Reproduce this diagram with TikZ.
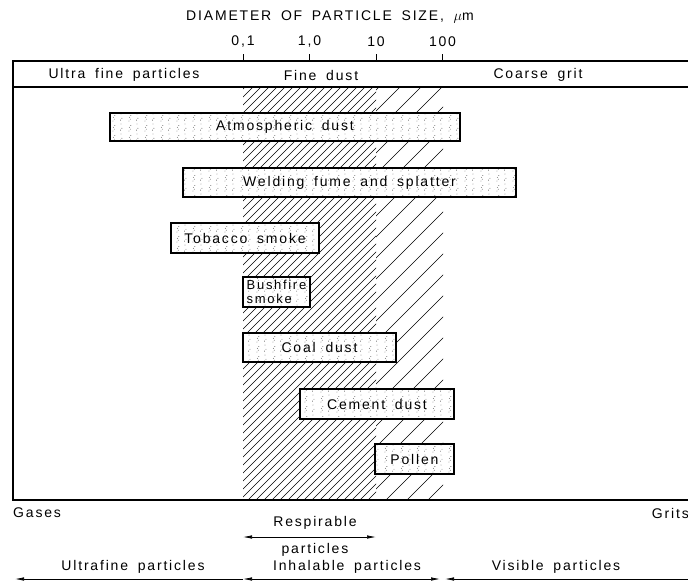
\documentclass[tikz,border=0pt]{standalone}
\usepackage{fontspec}
\setmainfont{Liberation Sans}[LetterSpace=13, WordSpace=1.7]
\usetikzlibrary{arrows.meta,patterns.meta}
\pgfdeclarepattern{name=stipple, type=uncolored,
  bottom left={\pgfpoint{0pt}{0pt}}, top right={\pgfpoint{16pt}{10pt}},
  tile size={\pgfpoint{16pt}{10pt}},
  code={\pgfpathcircle{\pgfpoint{1pt}{1pt}}{0.45pt}
        \pgfpathcircle{\pgfpoint{2.5pt}{3pt}}{0.45pt}
        \pgfpathcircle{\pgfpoint{1.5pt}{5pt}}{0.45pt}
        \pgfpathcircle{\pgfpoint{3pt}{7pt}}{0.45pt}
        \pgfpathcircle{\pgfpoint{9pt}{2pt}}{0.45pt}
        \pgfpathcircle{\pgfpoint{10.5pt}{4pt}}{0.45pt}
        \pgfpathcircle{\pgfpoint{9.5pt}{8.5pt}}{0.45pt}
        \pgfusepath{fill}}}
\newcommand{\hatchTop}{87}
\newcommand{\hatchBot}{500}

\begin{document}
\begin{tikzpicture}[x=1pt, y=-1pt, font=\fontsize{14}{16}\selectfont]
  \tikzset{frame/.style={line width=1.8pt},
    hatch/.style={line width=0.45pt},
    bar/.style={draw, line width=1.6pt, preaction={fill=white},
      pattern={stipple}, pattern color=black!70, inner sep=1pt},
    lbl/.style={inner sep=1pt},
    span/.style={line width=0.7pt, {Latex[length=9pt,width=3.5pt]}-},
    span both/.style={line width=0.7pt, {Latex[length=9pt,width=3.5pt]}-{Latex[length=9pt,width=3.5pt]}}}
  \useasboundingbox (0,0) rectangle (688,582);
  \node[lbl] (title) at (330,17) {DIAMETER OF PARTICLE SIZE, $\mu$m};
  \foreach \x/\v in {243/{0,1}, 309.5/{1,0}, 376/10, 442.5/100} {
    \node[lbl] at (\x,42) {\v};
    \draw[line width=0.8pt] (\x,54) -- (\x,61);
  }
  \begin{scope}
    \clip (243,\hatchTop) rectangle (376,\hatchBot);
    \foreach \k in {-176,-168,...,380} \draw[hatch] (\k,\hatchBot) -- ++(413,-413);
  \end{scope}
  \begin{scope}
    \clip (376,\hatchTop) rectangle (443,\hatchBot);
    \foreach \k in {-34,-13,...,450} \draw[hatch] (\k,\hatchBot) -- ++(413,-413);
  \end{scope}
  \draw[frame] (688,61) -- (13,61) -- (13,500) -- (688,500);
  \draw[frame] (13,87) -- (688,87);
  \node[lbl] (ultra) at (124,75) {Ultra fine particles};
  \node[lbl] (fine) at (321,75) {Fine dust};
  \node[lbl] (coarse) at (538,75) {Coarse grit};
  \node[bar, minimum width=350pt, minimum height=28pt] (atmos) at (285,127) {Atmospheric dust};
  \node[bar, minimum width=333pt, minimum height=29pt] (weld) at (349.5,182.5) {Welding fume and splatter};
  \node[bar, minimum width=148pt, minimum height=30pt] (tobacco) at (245,238) {Tobacco smoke};
  \node[bar, minimum width=67pt, minimum height=30pt, align=left, font=\fontsize{13}{13.5}\selectfont] (bushfire) at (276.5,292) {Bushfire\\smoke};
  \node[bar, minimum width=153pt, minimum height=29pt] (coal) at (319.5,347.5) {Coal dust};
  \node[bar, minimum width=154pt, minimum height=30pt] (cement) at (377,404) {Cement dust};
  \node[bar, minimum width=79pt, minimum height=30pt] (pollen) at (414.5,459) {Pollen};
  \node[lbl, anchor=west] (gases) at (12,513) {Gases};
  \node[lbl, anchor=east] (grits) at (690,513) {Grits};
  \node[lbl] (resp) at (315,523) {Respirable};
  \node[lbl] (respb) at (315,550) {particles};
  \coordinate (respL) at (243,537);
  \coordinate (respR) at (376,537);
  \draw[span both] (respL) -- (respR);
  \node[lbl] (ufine) at (133,567) {Ultrafine particles};
  \node[lbl] (inhal) at (347,567) {Inhalable particles};
  \node[lbl] (visib) at (556,567) {Visible particles};
  \coordinate (ufL) at (15,579);
  \coordinate (ufR) at (243,579);
  \coordinate (inR) at (440,579);
  \coordinate (viL) at (445,579);
  \coordinate (viR) at (688,579);
  \draw[span] (ufL) -- (ufR);
  \draw[span both] (ufR) -- (inR);
  \draw[span] (viL) -- (viR);
\end{tikzpicture}
\end{document}
